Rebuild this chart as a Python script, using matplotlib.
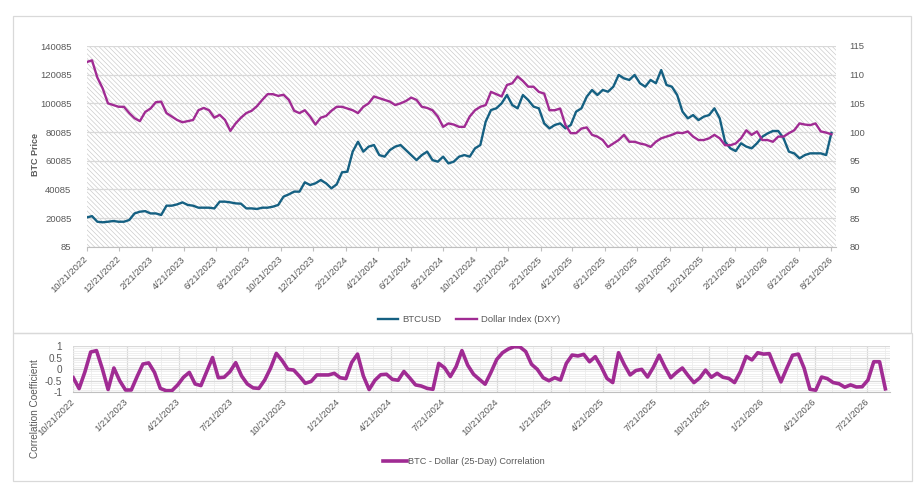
import matplotlib
matplotlib.use("Agg")
import matplotlib.pyplot as plt
import matplotlib.dates as mdates
from matplotlib.patches import Rectangle
from matplotlib.lines import Line2D
import numpy as np
import pandas as pd

plt.rcParams['font.family'] = ['Liberation Sans', 'DejaVu Sans']
plt.rcParams['hatch.linewidth'] = 0.45

# ---------------- data (sampled every 10 days from 10/21/2022) ----------------
start_date = "2022-10-21"
step = "10D"

btc_k = [20.5, 21.4, 17.5, 17.1, 17.5, 18.0, 17.5, 17.5, 18.7, 23.3,
         24.5, 24.9, 23.3, 23.3, 22.2, 28.7, 28.7, 29.6, 31.0, 29.2,
         28.7, 27.3, 27.3, 27.3, 26.8, 31.5, 31.5, 31.0, 30.3, 30.1,
         26.8, 26.8, 26.4, 27.3, 27.3, 28.0, 29.2, 35.0, 36.6, 38.5,
         38.5, 45.0, 43.1, 44.3, 46.6, 44.3, 40.8, 43.6, 52.0, 52.4,
         66.4, 73.3, 66.4, 69.9, 71.0, 64.0, 62.9, 67.5, 69.9, 71.0,
         67.5, 64.0, 60.5, 64.0, 66.4, 60.5, 59.4, 62.9, 58.2, 59.4,
         62.9, 64.0, 62.9, 68.7, 71.0, 87.3, 95.4, 96.6, 100.1, 105.9,
         98.9, 96.6, 105.9, 102.4, 97.8, 96.6, 86.1, 82.6, 85.0, 86.1,
         82.6, 85.0, 94.3, 96.6, 104.7, 109.4, 105.9, 109.4, 108.2, 111.7,
         119.9, 117.5, 116.4, 119.9, 114.1, 111.7, 116.4, 114.1, 123.3, 112.9,
         111.7, 105.9, 94.3, 89.6, 91.9, 88.4, 90.8, 91.9, 96.6, 89.6,
         73.3, 68.7, 66.8, 72.2, 69.9, 68.7, 72.2, 76.8, 79.1, 80.8,
         80.8, 75.7, 66.4, 65.2, 61.7, 64.0, 65.2, 65.2, 65.2, 64.0,
         79.5]

dxy = [112.2, 112.5, 109.5, 107.6, 105.0, 104.7, 104.4, 104.4, 103.3, 102.4,
       101.9, 103.5, 104.1, 105.2, 105.3, 103.3, 102.7, 102.1, 101.7, 101.9,
       102.1, 103.8, 104.2, 103.8, 102.5, 103.0, 102.1, 100.2, 101.5, 102.5,
       103.3, 103.7, 104.5, 105.6, 106.6, 106.6, 106.3, 106.5, 105.6, 103.7,
       103.3, 103.8, 102.7, 101.3, 102.5, 102.8, 103.7, 104.4, 104.4, 104.1,
       103.8, 103.3, 104.4, 105.0, 106.2, 105.9, 105.6, 105.3, 104.7, 105.0,
       105.4, 106.0, 105.6, 104.4, 104.2, 103.8, 102.7, 100.9, 101.5, 101.3,
       100.9, 100.9, 102.7, 103.8, 104.4, 104.7, 107.0, 106.6, 106.2, 108.2,
       108.5, 109.7, 108.9, 107.9, 107.9, 107.0, 106.7, 103.8, 103.8, 104.1,
       101.2, 99.8, 99.8, 100.6, 100.8, 99.5, 99.2, 98.6, 97.4, 98.0,
       98.6, 99.5, 98.3, 98.3, 98.0, 97.8, 97.4, 98.3, 98.9, 99.2,
       99.5, 99.9, 99.8, 100.1, 99.2, 98.6, 98.6, 98.9, 99.5, 98.9,
       97.7, 97.7, 98.0, 98.9, 100.3, 99.5, 100.1, 98.6, 98.6, 98.3,
       99.2, 99.2, 99.8, 100.3, 101.5, 101.3, 101.2, 101.5, 100.1, 99.9,
       99.6]

corr = [-0.37, -0.84, -0.12, 0.74, 0.80, 0.02, -0.88, 0.05, -0.50, -0.90,
        -0.90, -0.32, 0.22, 0.27, -0.14, -0.83, -0.93, -0.93, -0.68, -0.35,
        -0.14, -0.64, -0.71, -0.11, 0.50, -0.37, -0.35, -0.11, 0.28, -0.29,
        -0.64, -0.81, -0.83, -0.47, 0.04, 0.68, 0.37, -0.01, -0.04, -0.31,
        -0.61, -0.53, -0.25, -0.25, -0.25, -0.18, -0.37, -0.41, 0.29, 0.65,
        -0.29, -0.88, -0.48, -0.24, -0.22, -0.44, -0.48, -0.10, -0.38, -0.68,
        -0.73, -0.83, -0.87, 0.25, 0.06, -0.32, 0.11, 0.80, 0.17, -0.22,
        -0.44, -0.65, -0.14, 0.42, 0.71, 0.87, 0.97, 0.96, 0.76, 0.21,
        -0.01, -0.37, -0.50, -0.37, -0.47, 0.25, 0.61, 0.57, 0.64, 0.32,
        0.54, 0.11, -0.40, -0.58, 0.71, 0.19, -0.25, -0.06, -0.01, -0.34,
        0.08, 0.60, 0.08, -0.37, -0.14, 0.05, -0.28, -0.58, -0.38, -0.04,
        -0.35, -0.18, -0.35, -0.40, -0.58, -0.11, 0.55, 0.40, 0.71, 0.65,
        0.67, 0.05, -0.55, 0.04, 0.60, 0.65, 0.04, -0.87, -0.91, -0.34,
        -0.41, -0.58, -0.63, -0.78, -0.68, -0.77, -0.76, -0.47, 0.32, 0.32,
        -0.85]

btc_ticks = [85, 20085, 40085, 60085, 80085, 100085, 120085, 140085]
dxy_ticks = [80, 85, 90, 95, 100, 105, 110, 115]
corr_ticks = [-1, -0.5, 0, 0.5, 1]
corr_ticklabels = ["-1", "-0.5", "0", "0.5", "1"]
x_end = "2026-08-29"

# ---------------- derived ----------------
dates = pd.date_range(start_date, periods=len(btc_k), freq=step)
btc = np.array(btc_k) * 1000.0

BLUE = "#156082"
MAG = "#A02B93"
TXT = "#595959"
GRID = "#d9d9d9"

W, H = 924, 492
fig = plt.figure(figsize=(W / 100, H / 100), dpi=100)

def fr(x0, y0, x1, y1):
    return [x0 / W, 1 - y1 / H, (x1 - x0) / W, (y1 - y0) / H]

# chart boxes
fig.add_artist(Rectangle((13 / W, 1 - 333 / H), (911 - 13) / W, (333 - 16) / H,
                         transform=fig.transFigure, fill=False, edgecolor=GRID, lw=0.9))
fig.add_artist(Rectangle((13 / W, 1 - 481 / H), (912 - 13) / W, (481 - 333) / H,
                         transform=fig.transFigure, fill=False, edgecolor=GRID, lw=0.9))

# ---------------- top chart ----------------
ax = fig.add_axes(fr(86.7, 46, 835.7, 246.7))
ax.patch.set_visible(False)
ax.add_patch(Rectangle((0, 0), 1, 1, transform=ax.transAxes, facecolor="white",
                       edgecolor="#c8c8c8", lw=0, hatch="\\\\\\\\\\\\\\", zorder=0))
ax.plot(dates, btc, color=BLUE, lw=1.7, zorder=3)
ax.set_ylim(85, 140085)
ax.set_yticks(btc_ticks)
ax.set_yticklabels([str(t) for t in btc_ticks])
ax.grid(axis="y", color=GRID, lw=0.9, zorder=1)
ax.set_axisbelow(True)
xt = pd.date_range(start_date, "2026-08-21", freq=pd.DateOffset(months=2))
ax.set_xticks(xt)
ax.set_xticklabels([f"{d.month}/{d.day}/{d.year}" for d in xt], rotation=45,
                   ha="right", va="center", rotation_mode="anchor")
ax.set_xlim(pd.Timestamp(start_date), pd.Timestamp(x_end))
for s in ["top", "right", "left"]:
    ax.spines[s].set_visible(False)
ax.spines["bottom"].set_color("#bfbfbf")
ax.tick_params(axis="x", colors="#bfbfbf", labelcolor=TXT, labelsize=6.8, length=3, pad=5)
ax.tick_params(axis="y", length=0, labelcolor=TXT, labelsize=6.8, pad=11)

ax2 = ax.twinx()
ax2.patch.set_visible(False)
ax2.plot(dates, dxy, color=MAG, lw=1.7, zorder=3)
ax2.set_ylim(80, 115)
ax2.set_yticks(dxy_ticks)
ax2.set_yticklabels([str(t) for t in dxy_ticks])
for s in ["top", "right", "left", "bottom"]:
    ax2.spines[s].set_visible(False)
ax2.tick_params(axis="y", length=0, labelcolor=TXT, labelsize=6.8, pad=10)

fig.text(35 / W, 1 - 154 / H, "BTC Price", rotation=90, ha="center", va="center",
         fontsize=6.5, fontweight="bold", color=TXT)

h1 = Line2D([], [], color=BLUE, lw=1.7)
h2 = Line2D([], [], color=MAG, lw=1.7)
fig.legend([h1, h2], ["BTCUSD", "Dollar Index (DXY)"], loc="center",
           bbox_to_anchor=(469 / W, 1 - 320 / H), ncol=2, frameon=False,
           fontsize=6.8, labelcolor=TXT, handlelength=2.2, handletextpad=0.4,
           columnspacing=1.6)

# ---------------- bottom chart ----------------
bx = fig.add_axes(fr(73.3, 346, 890, 392.3))
bx.plot(dates, corr, color=MAG, lw=2.6, zorder=3, solid_joinstyle="round")
bx.set_ylim(-1, 1)
bx.set_yticks(corr_ticks)
bx.set_yticklabels(corr_ticklabels)
bx.set_yticks(np.arange(-1, 1.001, 0.1), minor=True)
bxt = pd.date_range(start_date, "2026-07-21", freq=pd.DateOffset(months=3))
bx.set_xticks(bxt)
bx.set_xticklabels([f"{d.month}/{d.day}/{d.year}" for d in bxt], rotation=45,
                   ha="right", va="center", rotation_mode="anchor")
bx.set_xticks(pd.date_range(start_date, x_end, freq=pd.DateOffset(months=1)), minor=True)
bx.set_xlim(pd.Timestamp(start_date), pd.Timestamp(x_end))
bx.grid(which="major", color=GRID, lw=0.9, zorder=1)
bx.grid(which="minor", color="#ececec", lw=0.6, zorder=1)
bx.set_axisbelow(True)
for s in ["top", "right", "left"]:
    bx.spines[s].set_visible(False)
bx.spines["bottom"].set_color("#bfbfbf")
bx.tick_params(which="both", length=0)
bx.tick_params(axis="x", labelcolor=TXT, labelsize=6.8, pad=6)
bx.tick_params(axis="y", labelcolor=TXT, labelsize=7.2, pad=8)

fig.text(35 / W, 1 - 409 / H, "Correlation Coefficient", rotation=90, ha="center",
         va="center", fontsize=7.2, color=TXT)

h3 = Line2D([], [], color=MAG, lw=2.6)
fig.legend([h3], ["BTC - Dollar (25-Day) Correlation"], loc="center",
           bbox_to_anchor=(464 / W, 1 - 462 / H), frameon=False, fontsize=6.6,
           labelcolor=TXT, handlelength=2.6, handletextpad=0.2)

fig.savefig("out.png", dpi=100)
